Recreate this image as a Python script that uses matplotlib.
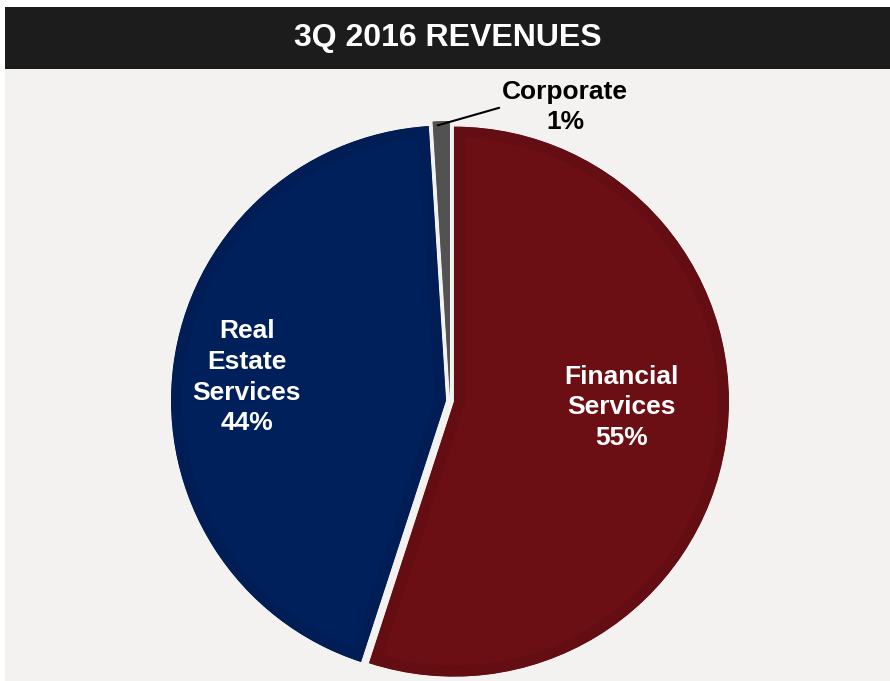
import numpy as np
import matplotlib.pyplot as plt

# segment data
segments = ["Financial\nServices", "Real\nEstate\nServices", "Corporate"]
shares = [55, 44, 1]
colors = ["#6b0f15", "#00205b", "#5b5b5b"]
borders = ["#640d12", "#001d55", "#525252"]
explode = [4, 4, 5]
# label placement: fraction of radius, angle shift from mid-angle (deg)
label_dist = [0.61, 0.73, None]
label_shift = [7, 0.6, 0]

plt.rcParams['font.family'] = ['Liberation Sans', 'DejaVu Sans']

W, H = 890, 681
fig = plt.figure(figsize=(W / 100, H / 100), dpi=100)
fig.patch.set_facecolor("white")

# title bar
head = fig.add_axes([5 / W, (H - 69) / H, (W - 5) / W, 62 / H])
head.set_facecolor("#1c1c1c")
head.set_xticks([])
head.set_yticks([])
for s in head.spines.values():
    s.set_visible(False)
head.text(0.5, 0.5, "3Q 2016 REVENUES", color="white", fontsize=23,
          fontweight="bold", ha="center", va="center", transform=head.transAxes)

# main area, axes in pixel units
ax = fig.add_axes([5 / W, 0, (W - 5) / W, (H - 69) / H])
ax.set_facecolor("#f3f2f0")

cx, cy, r = 450, 280, 275
wedges, _ = ax.pie(shares, colors=colors, startangle=90, counterclock=False,
                   explode=explode, radius=r, center=(cx, cy), frame=True)

# darker inner rim: wide stroke clipped to the wedge itself
for w, bc in zip(wedges, borders):
    w.set_edgecolor(bc)
    w.set_linewidth(16)
    w.set_clip_on(True)
    w.set_clip_path(w)

for w, name, pct, d, sh in zip(wedges, segments, shares, label_dist, label_shift):
    if d is None:
        continue
    th = np.deg2rad((w.theta1 + w.theta2) / 2 + sh)
    x = w.center[0] + d * r * np.cos(th)
    y = w.center[1] + d * r * np.sin(th)
    ax.text(x, y, f"{name}\n{pct}%", color="white", fontsize=19,
            fontweight="bold", ha="center", va="center", linespacing=1.35)

# corporate callout
wc = wedges[2]
th = np.deg2rad((wc.theta1 + wc.theta2) / 2 + 0.8)
px = wc.center[0] + 0.985 * r * np.cos(th)
py = wc.center[1] + 0.985 * r * np.sin(th)
ax.annotate(f"{segments[2]}\n{shares[2]}%", xy=(px, py), xytext=(565, H - 107),
            fontsize=19, fontweight="bold", ha="center", va="center",
            linespacing=1.35,
            arrowprops=dict(arrowstyle="-", color="black", lw=1.5,
                            relpos=(0, 0.5), shrinkA=0, shrinkB=0))

ax.set_xlim(5, W)
ax.set_ylim(0, H - 69)
ax.set_xticks([])
ax.set_yticks([])
for s in ax.spines.values():
    s.set_visible(False)

fig.savefig("out.png", dpi=100, facecolor="white")
